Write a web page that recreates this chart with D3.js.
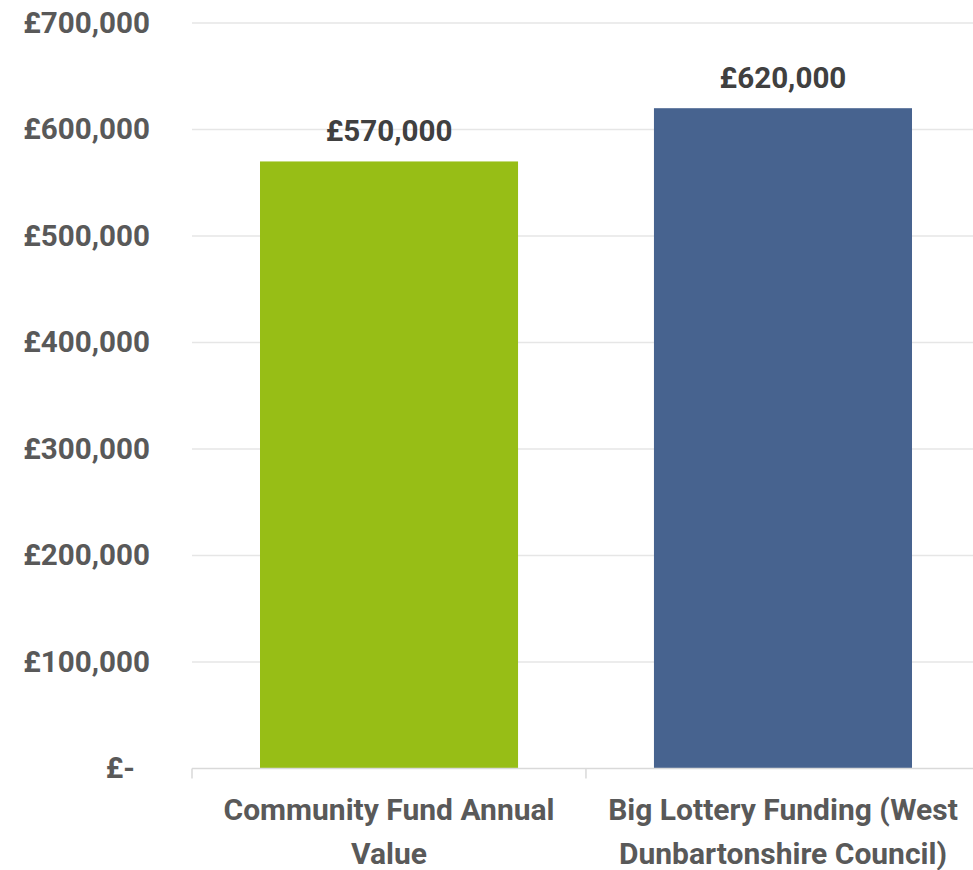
<!DOCTYPE html>
<html><head><meta charset="utf-8">
<script src="https://cdn.jsdelivr.net/npm/d3@7"></script>
<style>body{margin:0;background:#fff}svg{display:block}</style>
</head><body>
<svg id="c" width="973" height="870"></svg>
<script>
const categories = [["Community Fund Annual","Value"],["Big Lottery Funding (West","Dunbartonshire Council)"]];
const values = [570000, 620000];
const colors = ["#97be16", "#47638f"];
const yTicks = [0,100000,200000,300000,400000,500000,600000,700000];
const fmt = v => v === 0 ? "£-" : "£" + d3.format(",")(v);

const svg = d3.select("#c");
const font = "Roboto, sans-serif";
const fs = 29.6;
const y = d3.scaleLinear().domain([0,700000]).range([768.5, 23]);
const x = d3.scaleBand().domain(d3.range(categories.length)).range([192, 980]).paddingInner(0.345).paddingOuter(0.1726);

// gridlines
svg.append("g").selectAll("line").data(yTicks.filter(d=>d>0)).join("line")
  .attr("x1",192).attr("x2",980).attr("y1",d=>y(d)).attr("y2",d=>y(d))
  .attr("stroke","#e6e6e6").attr("stroke-width",1.5);

// y labels (accounting format: zero dash has trailing space)
svg.append("g").selectAll("text").data(yTicks).join("text")
  .attr("x",d=>d===0?135:150).attr("y",d=>y(d)+9.5).attr("text-anchor","end")
  .attr("font-family",font).attr("font-weight","bold").attr("font-size",fs)
  .attr("fill","#595959").text(fmt);

// bars
svg.append("g").selectAll("rect").data(values).join("rect")
  .attr("x",(d,i)=>x(i)).attr("width",x.bandwidth())
  .attr("y",d=>y(d)).attr("height",d=>y(0)-y(d))
  .attr("fill",(d,i)=>colors[i]);

// x axis line and ticks
svg.append("line").attr("x1",192).attr("x2",980).attr("y1",y(0)).attr("y2",y(0))
  .attr("stroke","#d9d9d9").attr("stroke-width",1.5);
const step = x.step();
svg.append("g").selectAll("line").data(d3.range(categories.length+1)).join("line")
  .attr("x1",i=>192+i*step).attr("x2",i=>192+i*step).attr("y1",y(0)).attr("y2",y(0)+10)
  .attr("stroke","#d9d9d9").attr("stroke-width",1.5);

// data labels
svg.append("g").selectAll("text").data(values).join("text")
  .attr("x",(d,i)=>x(i)+x.bandwidth()/2).attr("y",d=>y(d)-20).attr("text-anchor","middle")
  .attr("font-family",font).attr("font-weight","bold").attr("font-size",fs)
  .attr("fill","#404040").text(fmt);

// category labels
const cl = svg.append("g").selectAll("text").data(categories).join("text")
  .attr("x",(d,i)=>x(i)+x.bandwidth()/2).attr("y",820).attr("text-anchor","middle")
  .attr("font-family",font).attr("font-weight","bold").attr("font-size",30)
  .attr("fill","#595959");
cl.selectAll("tspan").data(d=>d).join("tspan")
  .attr("x",function(){return this.parentNode.getAttribute("x");})
  .attr("dy",(d,i)=>i===0?0:44).text(d=>d);
</script>
</body></html>
